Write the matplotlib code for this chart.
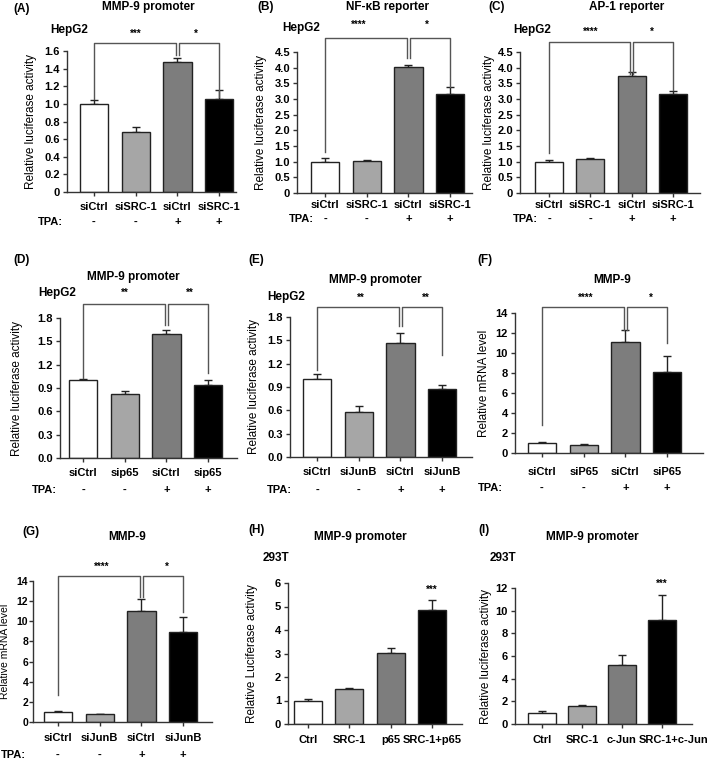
import numpy as np
import matplotlib
matplotlib.use('Agg')
import matplotlib.pyplot as plt

plt.rcParams['font.family'] = ['Liberation Sans', 'DejaVu Sans']
plt.rcParams['font.weight'] = 'bold'
plt.rcParams['font.size'] = 8.5

W, H = 709, 764
BAR_COLORS = ['white', '#a6a6a6', '#7d7d7d', 'black']
EDGE = '#222222'
LINE = '#555555'

# ---------------- data ----------------
tpa_signs = ['-', '-', '+', '+']

a_labels = ['siCtrl', 'siSRC-1', 'siCtrl', 'siSRC-1']
a_vals = [1.00, 0.68, 1.48, 1.05]
a_err = [0.04, 0.06, 0.04, 0.11]

b_labels = ['siCtrl', 'siSRC-1', 'siCtrl', 'siSRC-1']
b_vals = [1.00, 1.02, 4.02, 3.17]
b_err = [0.12, 0.02, 0.08, 0.22]

c_labels = ['siCtrl', 'siSRC-1', 'siCtrl', 'siSRC-1']
c_vals = [0.98, 1.10, 3.73, 3.17]
c_err = [0.08, 0.02, 0.12, 0.07]

d_labels = ['siCtrl', 'sip65', 'siCtrl', 'sip65']
d_vals = [1.00, 0.82, 1.59, 0.94]
d_err = [0.02, 0.04, 0.05, 0.06]

e_labels = ['siCtrl', 'siJunB', 'siCtrl', 'siJunB']
e_vals = [1.00, 0.58, 1.46, 0.87]
e_err = [0.07, 0.08, 0.14, 0.05]

f_labels = ['siCtrl', 'siP65', 'siCtrl', 'siP65']
f_vals = [1.00, 0.78, 11.05, 8.05]
f_err = [0.10, 0.08, 1.20, 1.60]

g_labels = ['siCtrl', 'siJunB', 'siCtrl', 'siJunB']
g_vals = [1.00, 0.78, 11.00, 8.90]
g_err = [0.08, 0.06, 1.20, 1.50]

h_labels = ['Ctrl', 'SRC-1', 'p65', 'SRC-1+p65']
h_vals = [1.00, 1.47, 3.02, 4.85]
h_err = [0.07, 0.08, 0.20, 0.42]

i_labels = ['Ctrl', 'SRC-1', 'c-Jun', 'SRC-1+c-Jun']
i_vals = [0.97, 1.62, 5.25, 9.22]
i_err = [0.15, 0.10, 0.85, 2.15]

fig = plt.figure(figsize=(W / 100, H / 100), dpi=100)


def ftext(x, y, s, **kw):
    fig.text(x / W, 1 - y / H, s, **kw)


def panel(vals, errs, labels, ymax, ystep, fmt, ylabel,
          spine, c0, step, end, y0, ytop, ylab_dx=30, lab_pad=4, tpa=None,
          last_shift=0, ylab_size=8.5, ytick_pad=2, ytick_size=8):
    ax = fig.add_axes([spine / W, 1 - y0 / H, (end - spine) / W, (y0 - ytop) / H])
    x = np.arange(len(vals))
    ax.errorbar(x, vals, yerr=[np.zeros(len(errs)), errs], fmt='none',
                ecolor=EDGE, elinewidth=1, capsize=3, capthick=1, zorder=1)
    ax.bar(x, vals, 0.68, color=BAR_COLORS, edgecolor=EDGE, linewidth=1, zorder=2)
    ax.set_xlim(-(c0 - spine) / step, (end - c0) / step)
    ax.set_ylim(0, ymax)
    ticks = np.arange(0, ymax + ystep / 2, ystep)
    ax.set_yticks(ticks)
    ax.set_yticklabels([fmt(t) for t in ticks], fontsize=ytick_size)
    ax.set_xticks(x)
    shown = list(labels)
    if last_shift:
        shown[-1] = ''
    ax.set_xticklabels(shown, fontsize=8)
    ax.tick_params(axis='both', length=3, width=1, color='#333333')
    ax.tick_params(axis='y', pad=ytick_pad)
    ax.tick_params(axis='x', pad=lab_pad)
    for s in ['top', 'right']:
        ax.spines[s].set_visible(False)
    for s in ['left', 'bottom']:
        ax.spines[s].set_linewidth(1)
        ax.spines[s].set_color('#333333')
    ax.set_ylabel(ylabel, fontsize=ylab_size)
    ax.yaxis.set_label_coords(-ylab_dx / (end - spine), 0.5)
    tr = ax.get_xaxis_transform()
    if last_shift:
        # last category label sits right of its bar in the original
        ax.annotate(labels[-1], xy=(x[-1], 0), xycoords=tr,
                    xytext=(last_shift * 0.72, -(3 + lab_pad)), textcoords='offset points',
                    ha='center', va='top', fontsize=8, annotation_clip=False)
    if tpa is not None:
        left_px, dy_px = tpa
        ax.annotate('TPA:', xy=(left_px / step, 0), xycoords=tr,
                    xytext=(0, -dy_px * 0.72), textcoords='offset points',
                    ha='left', va='center', fontsize=8, annotation_clip=False)
        for xi, sg in zip(x, tpa_signs):
            ax.annotate(sg, xy=(xi, 0), xycoords=tr,
                        xytext=(0, -dy_px * 0.72), textcoords='offset points',
                        ha='center', va='center', fontsize=8)
    return ax


def bracket(ax, i, j, top, yi, yj, di=0.0, dj=0.0):
    ax.plot([i + di, i + di, j + dj, j + dj], [yi, top, top, yj],
            color=LINE, lw=1, clip_on=False)


def stars(ax, xpos, ypos, s):
    ax.text(xpos, ypos, s, ha='center', va='center', fontsize=7, clip_on=False)


f1 = lambda t: '0' if t == 0 else f'{t:.1f}'
f2 = lambda t: f'{t:.1f}'
f3 = lambda t: f'{t:.0f}'
luc = 'Relative luciferase activity'
mrna = 'Relative mRNA level'

# ---- (A) ----
ax = panel(a_vals, a_err, a_labels, 1.6, 0.2, f1, luc,
           67, 94, 41.7, 236, 192, 51, ylab_dx=30, tpa=(-56, 30))
bracket(ax, 0, 2, 1.69, 1.06, 1.55, dj=-0.04)
bracket(ax, 2, 3, 1.69, 1.55, 1.08, di=0.04)
stars(ax, 1.0, 1.80, '***')
stars(ax, 2.45, 1.80, '*')
ftext(13, 9, '(A)', ha='left', va='center')
ftext(148, 7, 'MMP-9 promoter', ha='center', va='center')
ftext(50, 30, 'HepG2', ha='left', va='center')

# ---- (B) ----
ax = panel(b_vals, b_err, b_labels, 4.5, 0.5, f1, luc,
           297, 325, 41.7, 472, 193, 52, ylab_dx=30, lab_pad=2, tpa=(-36, 26))
bracket(ax, 0, 2, 4.95, 1.31, 4.3, dj=-0.04)
bracket(ax, 2, 3, 4.95, 4.3, 3.39, di=0.04)
stars(ax, 0.8, 5.37, '****')
stars(ax, 2.45, 5.37, '*')
ftext(257, 7, '(B)', ha='left', va='center')
ftext(388, 7, 'NF-\u03baB reporter', ha='center', va='center')
ftext(282, 28, 'HepG2', ha='left', va='center')

# ---- (C) ----
ax = panel(c_vals, c_err, c_labels, 4.5, 0.5, f1, luc,
           520, 549, 41.3, 700, 193, 52, ylab_dx=25, lab_pad=2, tpa=(-36, 26))
bracket(ax, 0, 2, 4.82, 1.27, 3.8, dj=-0.04)
bracket(ax, 2, 3, 4.82, 3.8, 3.29, di=0.04)
stars(ax, 1.0, 5.14, '****')
stars(ax, 2.5, 5.14, '*')
ftext(488, 7, '(C)', ha='left', va='center')
ftext(627, 7, 'AP-1 reporter', ha='center', va='center')
ftext(513, 30, 'HepG2', ha='left', va='center')

# ---- (D) ----
ax = panel(d_vals, d_err, d_labels, 1.8, 0.3, f2, luc,
           60, 83, 41.7, 237, 458, 318, ylab_dx=37, tpa=(-51, 32))
bracket(ax, 0, 2, 1.975, 1.03, 1.71, dj=-0.04)
bracket(ax, 2, 3, 1.975, 1.71, 1.09, di=0.04)
stars(ax, 1.0, 2.12, '**')
stars(ax, 2.55, 2.12, '**')
ftext(13, 260, '(D)', ha='left', va='center')
ftext(133, 277, 'MMP-9 promoter', ha='center', va='center')
ftext(38, 293, 'HepG2', ha='left', va='center')

# ---- (E) ----
ax = panel(e_vals, e_err, e_labels, 1.8, 0.3, f2, luc,
           290, 317, 41.7, 472, 457, 317, ylab_dx=30, tpa=(-50, 33))
bracket(ax, 0, 2, 1.93, 1.12, 1.68, dj=-0.04)
bracket(ax, 2, 3, 1.93, 1.68, 1.31, di=0.04)
stars(ax, 1.05, 2.04, '**')
stars(ax, 2.6, 2.04, '**')
ftext(248, 260, '(E)', ha='left', va='center')
ftext(375, 280, 'MMP-9 promoter', ha='center', va='center')
ftext(267, 297, 'HepG2', ha='left', va='center')

# ---- (F) ----
ax = panel(f_vals, f_err, f_labels, 14, 2, f3, mrna,
           515, 542, 41.7, 703, 453, 313, ylab_dx=25, lab_pad=7, tpa=(-64, 35))
bracket(ax, 0, 2, 14.63, 2.8, 12.3, dj=-0.04)
bracket(ax, 2, 3, 14.63, 12.3, 11.0, di=0.04)
stars(ax, 1.05, 15.5, '****')
stars(ax, 2.6, 15.5, '*')
ftext(477, 260, '(F)', ha='left', va='center')
ftext(612, 280, 'MMP-9', ha='center', va='center')

# ---- (G) ----
ax = panel(g_vals, g_err, g_labels, 14, 2, f3, mrna,
           33, 58, 41.7, 212, 722, 581, ylab_dx=23, lab_pad=5, tpa=(-57, 33),
           ylab_size=7.5, ytick_pad=0.5, ytick_size=7.5)
bracket(ax, 0, 2, 14.5, 2.7, 12.4, dj=-0.04)
bracket(ax, 2, 3, 14.5, 12.4, 10.9, di=0.04)
stars(ax, 1.05, 15.4, '****')
stars(ax, 2.6, 15.4, '*')
ftext(22, 532, '(G)', ha='left', va='center')
ftext(127, 537, 'MMP-9', ha='center', va='center')

# ---- (H) ----
ax = panel(h_vals, h_err, h_labels, 6, 1, f3, 'Relative Luciferase activity',
           288, 308, 41.3, 462, 724, 583, ylab_dx=30, lab_pad=5)
stars(ax, 3, 5.7, '***')
ftext(248, 530, '(H)', ha='left', va='center')
ftext(360, 537, 'MMP-9 promoter', ha='center', va='center')
ftext(263, 558, '293T', ha='left', va='center')

# ---- (I) ----
ax = panel(i_vals, i_err, i_labels, 12, 2, f3, luc,
           515, 542, 40, 692, 724, 588, ylab_dx=23, lab_pad=5, last_shift=12)
stars(ax, 3, 12.4, '***')
ftext(478, 530, '(I)', ha='left', va='center')
ftext(592, 537, 'MMP-9 promoter', ha='center', va='center')
ftext(490, 558, '293T', ha='left', va='center')

plt.savefig('out.png', dpi=100)
